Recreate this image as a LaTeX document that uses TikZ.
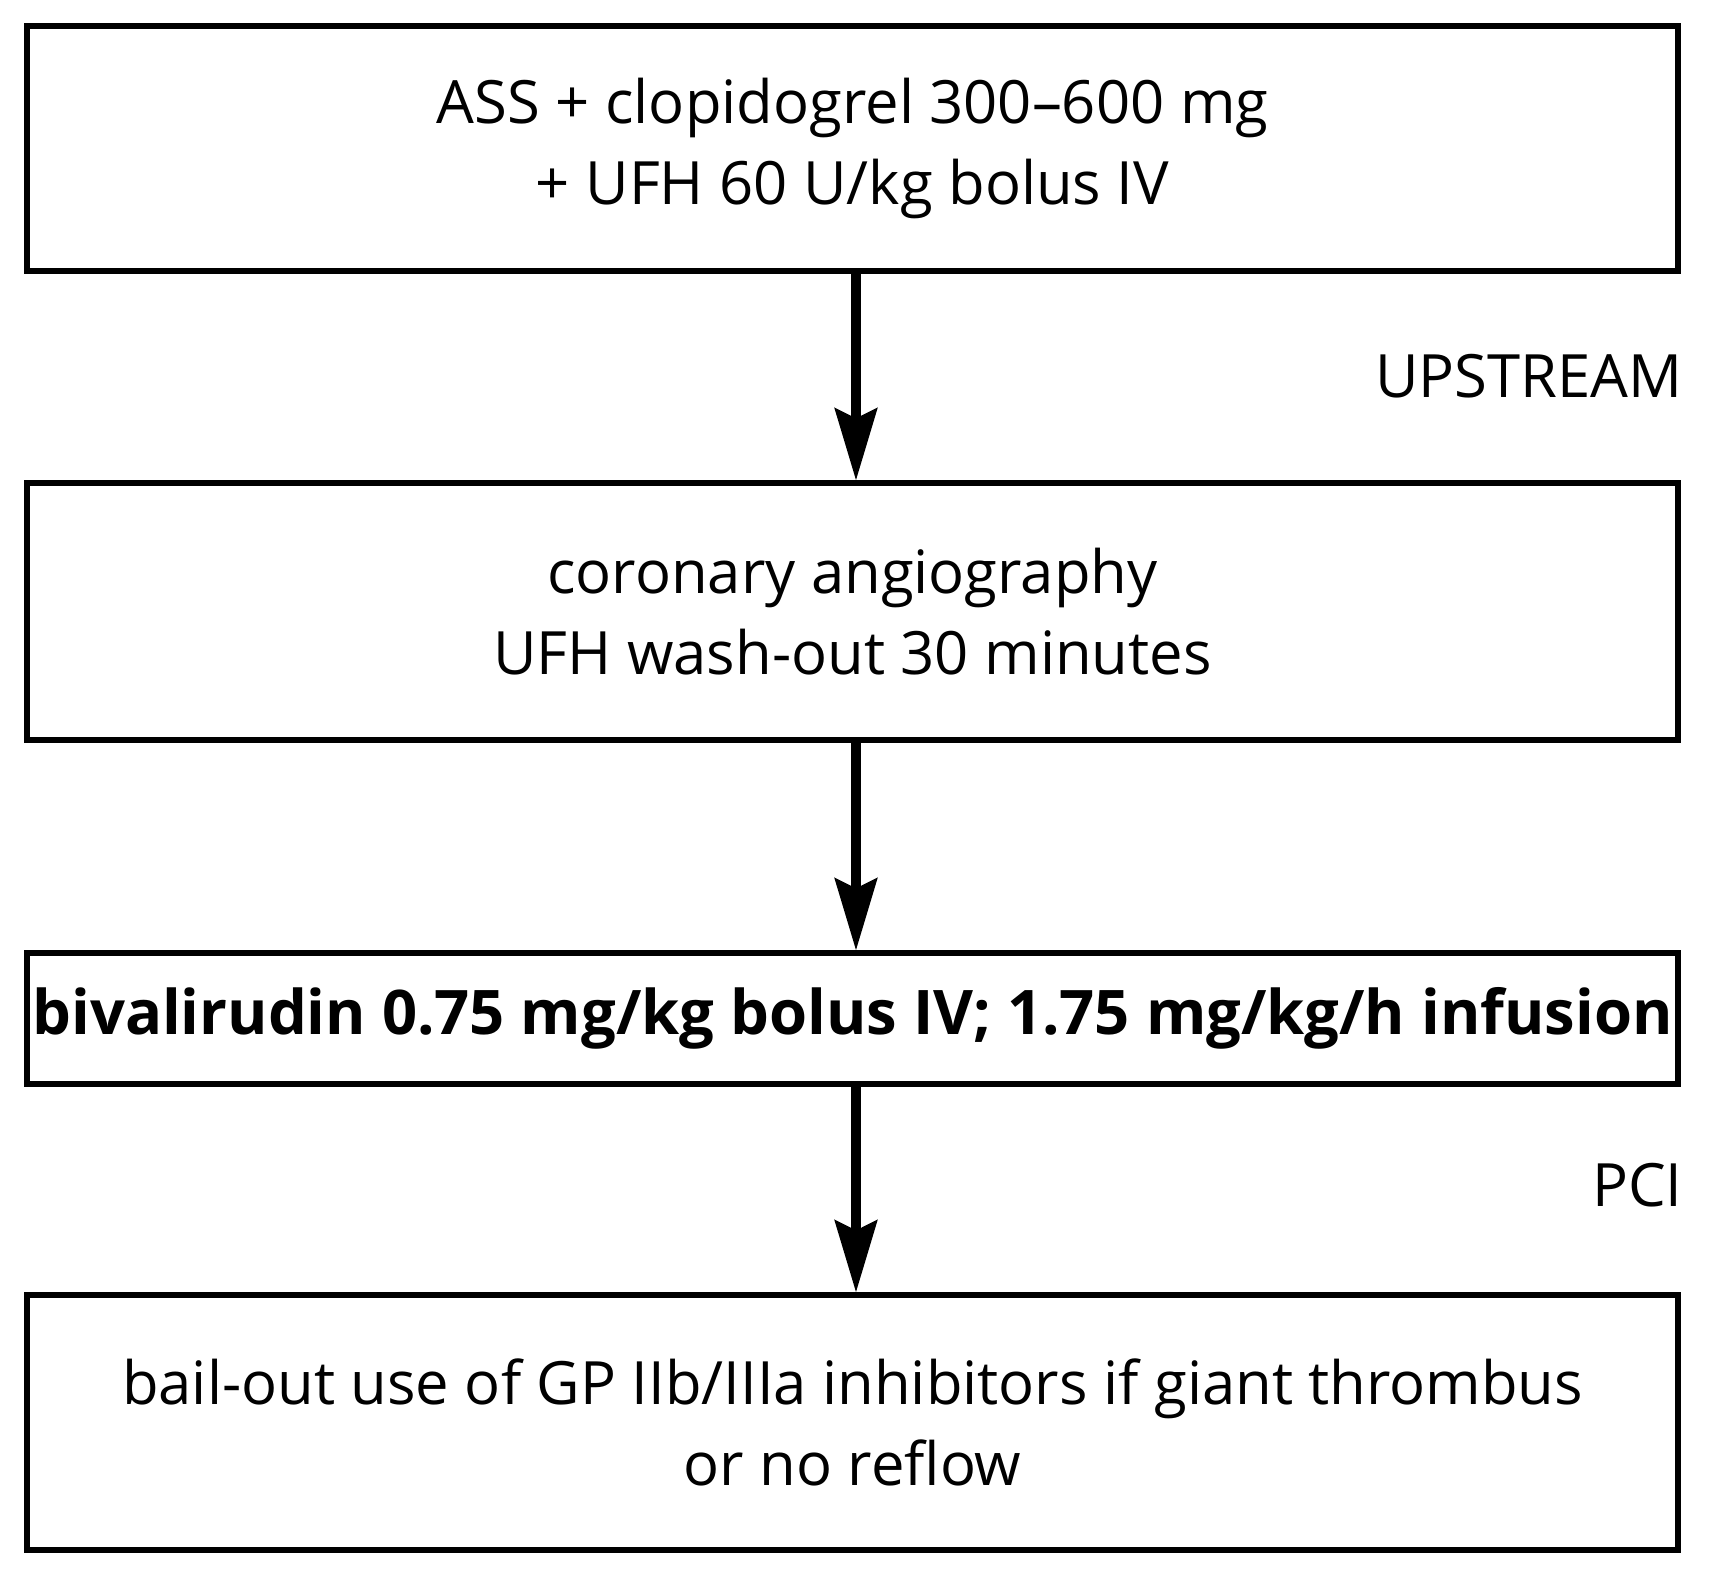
\documentclass[tikz,border=0pt]{standalone}
\usepackage{fontspec}
\setmainfont{Open Sans}
\usetikzlibrary{arrows.meta, positioning}

\tikzset{
  stepbox/.style={draw, rectangle, line width=1.45pt, minimum width=16.51cm, align=center, inner sep=0pt,
    font=\fontsize{17}{23}\selectfont},
  flow/.style={line width=2.6pt, -{Stealth[length=0.72cm, width=0.42cm, inset=0.1cm]}},
  side/.style={anchor=base east, font=\fontsize{17}{23}\selectfont}
}

\begin{document}
\begin{tikzpicture}
  \useasboundingbox (0,0) rectangle (17.14,-15.81);

  % Boxes
  \node[stepbox, minimum height=2.45cm] (start) at (8.525,-1.485) {ASS + clopidogrel 300--600 mg\\+ UFH 60 U/kg bolus IV};
  \node[stepbox, minimum height=2.57cm] (angio) at (8.525,-6.115) {coronary angiography\\UFH wash-out 30 minutes};
  \node[stepbox, minimum height=1.31cm, font=\fontsize{17.5}{23}\selectfont\bfseries] (bival) at (8.525,-10.185) {bivalirudin 0.75 mg/kg bolus IV; 1.75 mg/kg/h infusion};
  \node[stepbox, minimum height=2.55cm] (bailout) at (8.525,-14.225) {bail-out use of GP IIb/IIIa inhibitors if giant thrombus\\or no reflow};

  % Arrows
  \draw[flow] ([xshift=0.035cm]start.south) -- ([xshift=0.035cm]angio.north);
  \draw[flow] ([xshift=0.035cm]angio.south) -- ([xshift=0.035cm]bival.north);
  \draw[flow] ([xshift=0.035cm]bival.south) -- ([xshift=0.035cm]bailout.north);

  % Labels
  \node[side] (upstream) at (16.95,-3.97) {UPSTREAM};
  \node[side] (pci) at (16.95,-12.06) {PCI};
\end{tikzpicture}
\end{document}
